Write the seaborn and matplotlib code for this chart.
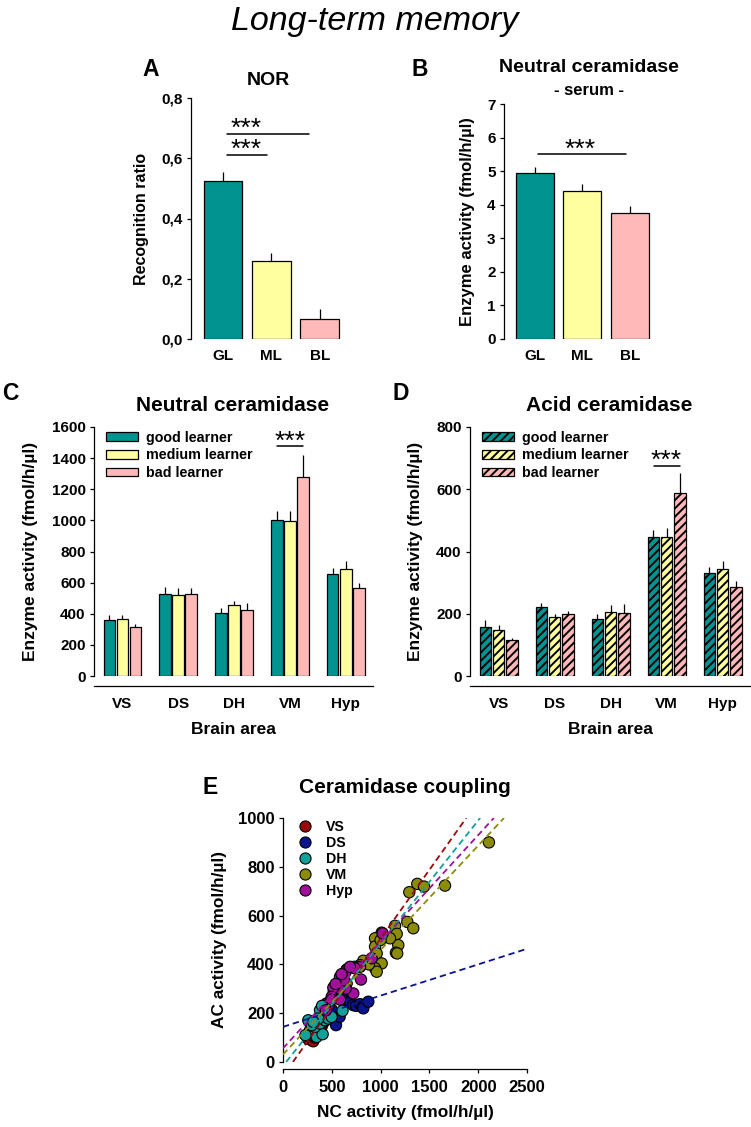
import numpy as np
import pandas as pd
import matplotlib
matplotlib.use('Agg')
import matplotlib.pyplot as plt
import seaborn as sns
from matplotlib.patches import Patch
from matplotlib.lines import Line2D

# ---- data ----
learner_colors = ['#00938f', '#ffffa0', '#ffb9b9']
area_colors = ['#9b0a0a', '#0a148c', '#12a09a', '#8c8c0a', '#a0109a']

groups = ['GL', 'ML', 'BL']
nor_mean = [0.524, 0.258, 0.066]
nor_sem = [0.031, 0.029, 0.033]
nor_ticklabels = ['0,0', '0,2', '0,4', '0,6', '0,8']

serum_mean = [4.94, 4.41, 3.74]
serum_sem = [0.17, 0.20, 0.22]

areas = ['VS', 'DS', 'DH', 'VM', 'Hyp']
learners = ['good learner', 'medium learner', 'bad learner']

nc_good = [360, 530, 405, 1005, 658]
nc_medium = [368, 518, 454, 997, 690]
nc_bad = [315, 525, 423, 1280, 563]
nc_good_err = [33, 40, 29, 57, 36]
nc_medium_err = [24, 46, 30, 62, 52]
nc_bad_err = [17, 41, 48, 140, 36]

ac_good = [157, 221, 184, 448, 332]
ac_medium = [149, 189, 205, 448, 345]
ac_bad = [115, 200, 203, 588, 285]
ac_good_err = [22, 12, 16, 20, 17]
ac_medium_err = [14, 9, 23, 29, 26]
ac_bad_err = [8, 10, 28, 63, 19]

# E: individual NC / AC pairs per brain area
nc_vs = [255, 290, 310, 330, 345, 370, 390, 400, 420, 450, 480, 500, 520, 545, 560, 300, 360, 440]
ac_vs = [95, 90, 85, 100, 120, 130, 140, 150, 165, 190, 220, 260, 290, 305, 320, 110, 125, 200]
nc_ds = [430, 447, 499, 516, 543, 550, 580, 618, 652, 686, 720, 750, 789, 813, 823, 874, 470, 600, 500]
ac_ds = [205, 240, 215, 174, 151, 192, 185, 267, 247, 247, 233, 230, 237, 226, 220, 247, 230, 275, 190]
nc_dh = [259, 276, 311, 345, 406, 327, 379, 430, 413, 379, 464, 498, 610, 294, 362, 311, 230, 400]
ac_dh = [171, 130, 110, 103, 114, 144, 158, 171, 199, 212, 178, 185, 210, 151, 178, 164, 110, 230]
nc_vm = [2110, 1660, 1376, 1445, 1294, 1274, 1335, 1148, 1165, 1181, 1157, 1096, 1011, 943,
         943, 960, 1011, 943, 960, 840, 823, 789, 731, 652, 1170, 1000, 880]
ac_vm = [900, 723, 730, 719, 696, 574, 548, 558, 525, 479, 448, 507, 530, 507,
         473, 445, 404, 384, 370, 411, 415, 397, 390, 322, 445, 500, 400]
nc_hyp = [1021, 908, 799, 789, 738, 652, 642, 584, 720, 642, 574, 516, 499, 499, 584, 440, 625, 686, 600, 540]
ac_hyp = [527, 425, 338, 390, 384, 379, 370, 349, 281, 301, 301, 305, 267, 256, 256, 212, 336, 390, 360, 320]

fit_slope = [0.563, 0.128, 0.503, 0.428, 0.437]
fit_intercept = [-57, 144, -16, 31, 56]

# ---- style ----
sns.set_style('ticks')
plt.rcParams['font.family'] = ['Liberation Sans', 'DejaVu Sans']
plt.rcParams['font.weight'] = 'bold'
plt.rcParams['axes.labelweight'] = 'bold'
plt.rcParams['axes.linewidth'] = 0.9
plt.rcParams['text.color'] = 'black'
plt.rcParams['axes.labelcolor'] = 'black'
plt.rcParams['xtick.color'] = 'black'
plt.rcParams['ytick.color'] = 'black'
plt.rcParams['axes.edgecolor'] = 'black'
plt.rcParams['hatch.color'] = 'black'
plt.rcParams['hatch.linewidth'] = 1.4

W, H = 751, 1127
fig = plt.figure(figsize=(W / 100, H / 100), dpi=100)


def add_axes(left, top, right, bottom):
    return fig.add_axes([left / W, 1 - bottom / H, (right - left) / W, (bottom - top) / H])


def ftext(x, y, s, **kw):
    fig.text(x / W, 1 - y / H, s, va='baseline', **kw)


def sig(ax, x0, x1, y, xs=None):
    ax.plot([x0, x1], [y, y], color='black', lw=1.1, clip_on=False)
    if xs is None:
        xs = (x0 + x1) / 2
    ax.annotate('***', xy=(xs, y), xytext=(0, -1.5), textcoords='offset points',
                ha='center', va='baseline', fontsize=19, fontweight='normal')


def style_axis(ax, size=11):
    sns.despine(ax=ax)
    ax.tick_params(axis='y', length=3, width=0.9, pad=3, labelsize=size)
    ax.tick_params(axis='x', length=0, labelsize=size)


# ---- title ----
ftext(375, 30, 'Long-term memory', ha='center', fontsize=24.5, style='italic', fontweight='normal')

# ---- A: NOR ----
axA = add_axes(191, 98, 345, 339)
sns.barplot(x=groups, y=nor_mean, hue=groups, palette=learner_colors, legend=False, saturation=1,
            width=0.8, edgecolor='black', linewidth=0.9, ax=axA)
axA.errorbar(range(3), nor_mean, yerr=[np.zeros(3), nor_sem], fmt='none', ecolor='black',
             elinewidth=0.9, capsize=0)
axA.set_xlim(-0.66, 2.52)
axA.set_ylim(0, 0.8)
axA.set_yticks([0, 0.2, 0.4, 0.6, 0.8])
axA.set_yticklabels(nor_ticklabels)
style_axis(axA)
axA.spines['bottom'].set_visible(False)
axA.tick_params(axis='x', pad=7)
axA.set_ylabel('Recognition ratio', fontsize=11.5)
axA.yaxis.set_label_coords(-0.27, 0.5)
sig(axA, 0.08, 1.77, 0.68, xs=0.47)
sig(axA, 0.08, 0.90, 0.61, xs=0.47)
ftext(151, 76, 'A', ha='center', fontsize=16.5)
ftext(268, 85, 'NOR', ha='center', fontsize=14)

# ---- B: serum neutral ceramidase ----
axB = add_axes(504, 104, 656, 339)
sns.barplot(x=groups, y=serum_mean, hue=groups, palette=learner_colors, legend=False, saturation=1,
            width=0.8, edgecolor='black', linewidth=0.9, ax=axB)
axB.errorbar(range(3), serum_mean, yerr=[np.zeros(3), serum_sem], fmt='none', ecolor='black',
             elinewidth=0.9, capsize=0)
axB.set_xlim(-0.65, 2.55)
axB.set_ylim(0, 7)
axB.set_yticks(range(8))
style_axis(axB)
axB.spines['bottom'].set_visible(False)
axB.tick_params(axis='x', pad=7)
axB.set_ylabel('Enzyme activity (fmol/h/µl)', fontsize=12)
axB.yaxis.set_label_coords(-0.19, 0.5)
sig(axB, 0.06, 1.92, 5.5, xs=0.95)
ftext(420, 76, 'B', ha='center', fontsize=16.5)
ftext(589, 72, 'Neutral ceramidase', ha='center', fontsize=14)
ftext(589, 95, '- serum -', ha='center', fontsize=12)


# ---- C / D: brain areas ----
def area_panel(ax, good, medium, bad, errs, hatch, ymax):
    df = pd.DataFrame({
        'area': areas * 3,
        'learner': np.repeat(learners, len(areas)),
        'value': good + medium + bad,
    })
    sns.barplot(data=df, x='area', y='value', hue='learner', palette=learner_colors, saturation=1,
                width=0.7, gap=0.1, errorbar=None, edgecolor='black', linewidth=0.9,
                legend=False, ax=ax)
    for cont, err in zip(ax.containers, errs):
        xs = [b.get_x() + b.get_width() / 2 for b in cont]
        hs = [b.get_height() for b in cont]
        ax.errorbar(xs, hs, yerr=[np.zeros(len(err)), err], fmt='none', ecolor='black',
                    elinewidth=0.9, capsize=0)
        if hatch:
            for b in cont:
                b.set_hatch('////')
    ax.set_xlim(-0.51, 4.49)
    ax.set_ylim(0, ymax)
    ax.set_yticks(np.arange(0, ymax + 1, 200))
    style_axis(ax)
    ax.spines['bottom'].set_position(('outward', 7))
    ax.tick_params(axis='x', pad=8)
    ax.set_xlabel('Brain area', fontsize=12.5, labelpad=8)
    ax.set_ylabel('Enzyme activity (fmol/h/µl)', fontsize=12.5)
    handles = [Patch(facecolor=c, edgecolor='black', linewidth=0.9, hatch='////' if hatch else None)
               for c in learner_colors]
    ax.legend(handles, learners, loc='upper left', bbox_to_anchor=(0.043, 0.985),
              frameon=False, borderpad=0, borderaxespad=0, handlelength=2.25, handleheight=0.55,
              handletextpad=0.56, labelspacing=0.25, prop={'weight': 'bold', 'size': 10.3})


axC = add_axes(94, 427, 373, 676)
area_panel(axC, nc_good, nc_medium, nc_bad, [nc_good_err, nc_medium_err, nc_bad_err], False, 1600)
axC.yaxis.set_label_coords(-0.2, 0.5)
sig(axC, 3 - 0.233, 3 + 0.233, 1475)
ftext(10, 400, 'C', ha='center', fontsize=16.5)
ftext(233, 411, 'Neutral ceramidase', ha='center', fontsize=15)

axD = add_axes(470, 427, 750, 676)
area_panel(axD, ac_good, ac_medium, ac_bad, [ac_good_err, ac_medium_err, ac_bad_err], True, 800)
axD.yaxis.set_label_coords(-0.168, 0.5)
sig(axD, 3 - 0.233, 3 + 0.233, 675)
ftext(401, 400, 'D', ha='center', fontsize=16.5)
ftext(609, 411, 'Acid ceramidase', ha='center', fontsize=15)

# ---- E: coupling ----
axE = add_axes(283, 818, 527, 1062)
nc_all = [nc_vs, nc_ds, nc_dh, nc_vm, nc_hyp]
ac_all = [ac_vs, ac_ds, ac_dh, ac_vm, ac_hyp]
coup = pd.DataFrame({
    'nc': np.concatenate(nc_all),
    'ac': np.concatenate(ac_all),
    'area': np.concatenate([[a] * len(v) for a, v in zip(areas, nc_all)]),
})
sns.scatterplot(data=coup, x='nc', y='ac', hue='area', palette=area_colors, s=66,
                edgecolor='black', linewidth=0.8, legend=False, ax=axE, zorder=2)
for m, b, c in zip(fit_slope, fit_intercept, area_colors):
    axE.axline((0, b), slope=m, color=c, ls=(0, (3.5, 2.2)), lw=1.3, zorder=3)
axE.set_xlim(0, 2500)
axE.set_ylim(0, 1000)
axE.set_xticks(range(0, 2501, 500))
axE.set_yticks(range(0, 1001, 200))
sns.despine(ax=axE)
axE.spines['bottom'].set_position(('outward', 5))
axE.tick_params(axis='both', length=3, width=0.9, pad=3, labelsize=12)
axE.tick_params(axis='x', pad=5)
axE.set_xlabel('NC activity (fmol/h/µl)', fontsize=12.4, labelpad=7)
axE.set_ylabel('AC activity (fmol/h/µl)', fontsize=12.4)
axE.yaxis.set_label_coords(-0.23, 0.5)
handles = [Line2D([], [], marker='o', ls='none', markersize=8, markerfacecolor=c,
                  markeredgecolor='black', markeredgewidth=0.8) for c in area_colors]
axE.legend(handles, areas, loc='upper left', bbox_to_anchor=(0.06, 0.99), frameon=False,
           borderpad=0, borderaxespad=0, handlelength=1.0, handletextpad=1.0, labelspacing=0.14,
           prop={'weight': 'bold', 'size': 10.2})
ftext(210, 794, 'E', ha='center', fontsize=16.5)
ftext(405, 793, 'Ceramidase coupling', ha='center', fontsize=15)

fig.savefig('out.png', dpi=100)
